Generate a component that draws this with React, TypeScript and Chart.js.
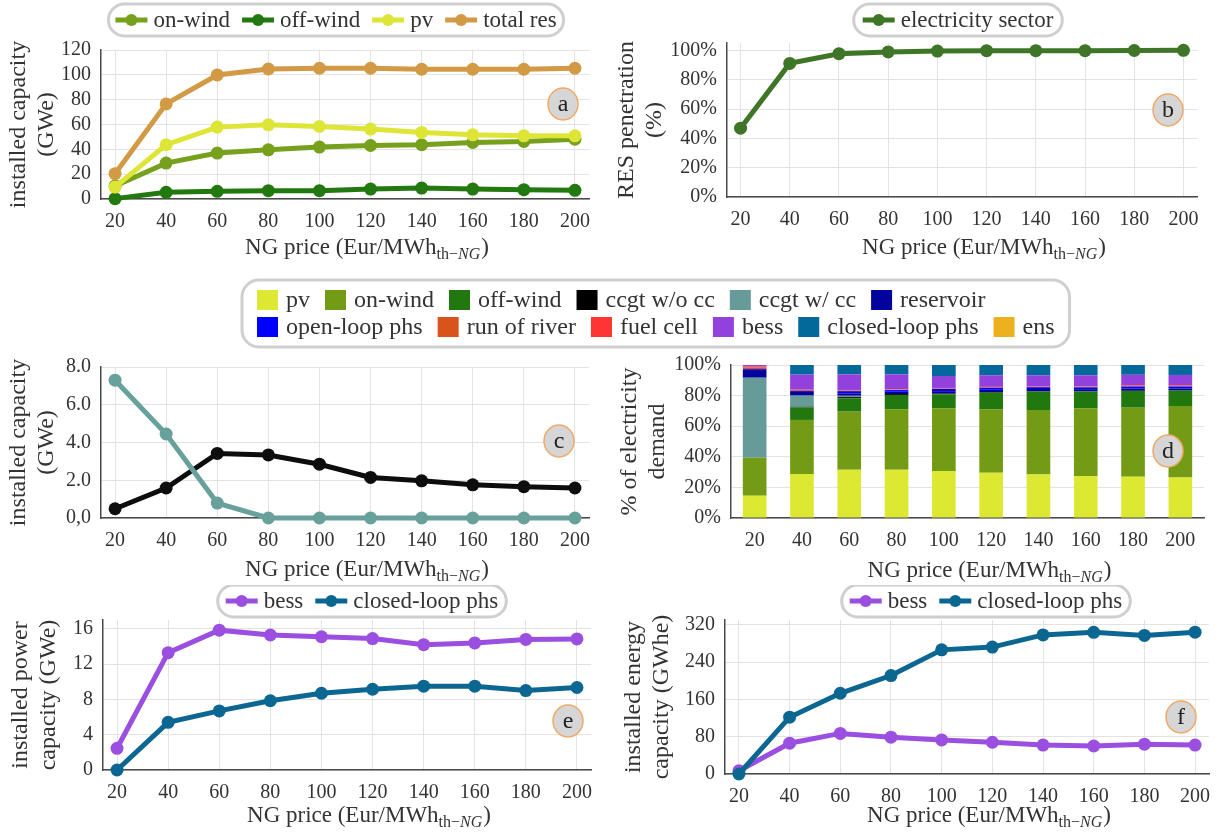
import React, { useEffect, useRef } from 'react';
import { Chart, registerables } from 'chart.js';

Chart.register(...registerables);

const SERIF = '"Liberation Serif", serif';
const TEXT = '#333333';
const GRID = '#e3e3e3';
const AXIS = '#4a4a4a';

// ---------- shared x axis ----------
const prices = [20, 40, 60, 80, 100, 120, 140, 160, 180, 200];
const priceLabels = ['20', '40', '60', '80', '100', '120', '140', '160', '180', '200'];

// ---------- panel a: installed capacity (GWe) ----------
const onWindCap = [10.5, 28.9, 37.0, 39.6, 41.8, 43.1, 43.7, 45.5, 46.3, 48.2];
const offWindCap = [0.3, 5.4, 6.2, 6.7, 6.7, 8.0, 8.8, 8.0, 7.5, 7.0];
const pvCap = [9.6, 43.7, 57.9, 59.7, 58.4, 56.3, 53.6, 51.7, 50.9, 50.9];
const totalResCap = [20.4, 76.6, 99.9, 104.7, 105.3, 105.3, 104.5, 104.5, 104.5, 105.3];
const capTicks = [0, 20, 40, 60, 80, 100, 120];

// ---------- panel b: RES penetration (%) ----------
const resPenetration = [46.9, 91.1, 97.7, 98.9, 99.5, 99.8, 99.8, 99.8, 99.9, 100];
const pctTicks = [0, 20, 40, 60, 80, 100];

// ---------- panel c: gas capacity (GWe) ----------
const ccgtNoCc = [0.49, 1.59, 3.42, 3.34, 2.85, 2.15, 1.97, 1.76, 1.66, 1.59];
const ccgtCc = [7.3, 4.45, 0.79, 0, 0, 0, 0, 0, 0, 0];
const gasTicks = [0, 2, 4, 6, 8];
const gasTickLabels = ['0,0', '2.0', '4.0', '6.0', '8.0'];

// ---------- panel d: % of electricity demand ----------
const mixPv = [14.6, 28.8, 31.6, 31.6, 30.7, 29.6, 28.5, 27.5, 27.0, 26.4];
const mixOnWind = [24.8, 35.3, 37.9, 39.4, 41.0, 41.4, 42.1, 44.2, 45.1, 46.8];
const mixOffWind = [0, 8.2, 8.7, 9.4, 9.1, 10.9, 12.0, 10.9, 10.9, 10.0];
const mixCcgtNoCc = [0, 0.4, 0.8, 0.6, 0.5, 0.4, 0.3, 0.2, 0.2, 0.1];
const mixCcgtCc = [52.3, 7.3, 0.9, 0, 0, 0, 0, 0, 0, 0];
const mixReservoir = [5.0, 2.4, 1.6, 1.5, 1.6, 1.5, 1.4, 1.4, 1.4, 1.4];
const mixOpenLoop = [0.6, 0.6, 1.4, 1.1, 1.4, 1.3, 1.2, 1.2, 1.3, 1.2];
const mixRunOfRiver = [1.0, 0.6, 0.5, 0.3, 0.4, 0.3, 0.4, 0.4, 0.5, 0.5];
const mixFuelCell = [0.7, 0.3, 0.3, 0.2, 0.3, 0.3, 0.3, 0.3, 0.4, 0.4];
const mixBess = [1.0, 9.8, 10.2, 9.8, 7.8, 7.6, 7.1, 7.2, 6.8, 6.7];
const mixClosedLoop = [0, 6.3, 6.1, 6.1, 7.2, 6.7, 6.7, 6.7, 6.4, 6.5];
const mixEns = [0, 0, 0, 0, 0, 0, 0, 0, 0, 0];

// ---------- panel e: storage power (GWe) ----------
const bessPower = [2.46, 13.3, 15.85, 15.3, 15.1, 14.9, 14.2, 14.4, 14.8, 14.85];
const phsPower = [0, 5.4, 6.7, 7.85, 8.7, 9.15, 9.5, 9.5, 9.0, 9.35];
const powerTicks = [0, 4, 8, 12, 16];

// ---------- panel f: storage energy (GWhe) ----------
const bessEnergy = [7, 66, 87, 79, 73, 68, 62, 60, 64, 62];
const phsEnergy = [0, 121.7, 173, 211, 266, 272, 298, 303.5, 297, 304];
const energyTicks = [0, 80, 160, 240, 320];

// ---------- colours ----------
const C_ONWIND = '#77a11d';
const C_OFFWIND = '#22790f';
const C_PV = '#dde637';
const C_TOTAL = '#d39a45';
const C_ELEC = '#3f7526';
const C_CCGT = '#0d0d0d';
const C_CCGTCC = '#68a09c';
const C_BESS_LINE = '#9b4fe0';
const C_PHS_LINE = '#0b6791';

const mixSeries = [
  { label: 'pv', data: mixPv, color: '#dde833' },
  { label: 'on-wind', data: mixOnWind, color: '#749b15' },
  { label: 'off-wind', data: mixOffWind, color: '#20780f' },
  { label: 'ccgt w/o cc', data: mixCcgtNoCc, color: '#000000' },
  { label: 'ccgt w/ cc', data: mixCcgtCc, color: '#669b99' },
  { label: 'reservoir', data: mixReservoir, color: '#02029c' },
  { label: 'open-loop phs', data: mixOpenLoop, color: '#0000ff' },
  { label: 'run of river', data: mixRunOfRiver, color: '#d9541a' },
  { label: 'fuel cell', data: mixFuelCell, color: '#ff3535' },
  { label: 'bess', data: mixBess, color: '#9341dd' },
  { label: 'closed-loop phs', data: mixClosedLoop, color: '#03699a' },
  { label: 'ens', data: mixEns, color: '#edb120' },
];

type Item = { label: string; color: string; kind: 'line' | 'box' };
type Decor = {
  origin: [number, number];
  legend?: {
    rows: Item[][];
    align: 'center' | 'left';
    x: number;
    y: number;
    rowGap: number;
    padX: number;
    padY: number;
    fontSize: number;
    gap: number;
  };
  badge: { x: number; y: number; text: string };
  titleY: number;
};

function roundRectPath(ctx: CanvasRenderingContext2D, x: number, y: number, w: number, h: number, r: number) {
  ctx.beginPath();
  ctx.moveTo(x + r, y);
  ctx.lineTo(x + w - r, y);
  ctx.arcTo(x + w, y, x + w, y + r, r);
  ctx.lineTo(x + w, y + h - r);
  ctx.arcTo(x + w, y + h, x + w - r, y + h, r);
  ctx.lineTo(x + r, y + h);
  ctx.arcTo(x, y + h, x, y + h - r, r);
  ctx.lineTo(x, y + r);
  ctx.arcTo(x, y, x + r, y, r);
  ctx.closePath();
}

function drawLegend(ctx: CanvasRenderingContext2D, lg: NonNullable<Decor['legend']>, ox: number, oy: number) {
  ctx.font = `${lg.fontSize}px ${SERIF}`;
  const gap = lg.gap;
  const markW = (k: string) => (k === 'line' ? 32 : 21);
  const textGap = (k: string) => (k === 'line' ? 6 : 8);
  const layouts = lg.rows.map((row, r) => {
    const widths = row.map((it) => markW(it.kind) + textGap(it.kind) + ctx.measureText(it.label).width);
    const total = widths.reduce((a, b) => a + b, 0) + gap * (row.length - 1);
    const start = lg.align === 'center' ? lg.x - total / 2 : lg.x;
    return { widths, total, start, y: lg.y + r * lg.rowGap };
  });
  const left = Math.min(...layouts.map((l) => l.start)) - lg.padX;
  const right = Math.max(...layouts.map((l) => l.start + l.total)) + lg.padX;
  const top = layouts[0].y - 11 - lg.padY;
  const bottom = layouts[layouts.length - 1].y + 11 + lg.padY;
  roundRectPath(ctx, left - ox, top - oy, right - left, bottom - top, Math.min(17, (bottom - top) / 2));
  ctx.fillStyle = '#ffffff';
  ctx.fill();
  ctx.lineWidth = 3;
  ctx.strokeStyle = '#cfcfcf';
  ctx.stroke();
  layouts.forEach((l, r) => {
    let x = l.start - ox;
    const y = l.y - oy;
    lg.rows[r].forEach((it, i) => {
      if (it.kind === 'line') {
        ctx.strokeStyle = it.color;
        ctx.lineWidth = 5;
        ctx.beginPath();
        ctx.moveTo(x, y);
        ctx.lineTo(x + 32, y);
        ctx.stroke();
        ctx.fillStyle = it.color;
        ctx.beginPath();
        ctx.arc(x + 16, y, 6, 0, Math.PI * 2);
        ctx.fill();
      } else {
        ctx.fillStyle = it.color;
        ctx.fillRect(x, y - 10, 21, 20);
      }
      ctx.fillStyle = TEXT;
      ctx.textAlign = 'left';
      ctx.textBaseline = 'middle';
      ctx.fillText(it.label, x + markW(it.kind) + textGap(it.kind), y + 1);
      x += l.widths[i] + gap;
    });
  });
}

function drawXTitle(ctx: CanvasRenderingContext2D, chart: Chart, cy: number, oy: number) {
  const cx = (chart.chartArea.left + chart.chartArea.right) / 2 + 22;
  const base = cy - oy + 7;
  const parts = [
    { t: 'NG price (Eur/MWh', f: `23px ${SERIF}`, dy: 0, after: 0 },
    { t: 'th\u2212', f: `16px ${SERIF}`, dy: 5, after: 0 },
    { t: 'NG', f: `italic 16px ${SERIF}`, dy: 5, after: 1 },
    { t: ')', f: `23px ${SERIF}`, dy: 0, after: 0 },
  ];
  const widths = parts.map((p) => {
    ctx.font = p.f;
    return ctx.measureText(p.t).width + p.after;
  });
  let x = cx - widths.reduce((a, b) => a + b, 0) / 2;
  ctx.fillStyle = TEXT;
  ctx.textAlign = 'left';
  ctx.textBaseline = 'alphabetic';
  parts.forEach((p, i) => {
    ctx.font = p.f;
    ctx.fillText(p.t, x, base + p.dy);
    x += widths[i];
  });
}

function drawBadge(ctx: CanvasRenderingContext2D, b: Decor['badge'], ox: number, oy: number) {
  ctx.beginPath();
  ctx.ellipse(b.x - ox, b.y - oy, 15, 16, 0, 0, Math.PI * 2);
  ctx.fillStyle = '#d6d6d6';
  ctx.fill();
  ctx.lineWidth = 1.5;
  ctx.strokeStyle = '#f2a866';
  ctx.stroke();
  ctx.fillStyle = '#222222';
  ctx.font = `24px ${SERIF}`;
  ctx.textAlign = 'center';
  ctx.textBaseline = 'middle';
  ctx.fillText(b.text, b.x - ox, b.y - oy + 1);
}

function makeDecor(d: Decor) {
  return {
    id: 'decor',
    afterDraw(chart: Chart) {
      const ctx = chart.ctx;
      const [ox, oy] = d.origin;
      ctx.save();
      drawXTitle(ctx, chart, d.titleY, oy);
      if (d.legend) drawLegend(ctx, d.legend, ox, oy);
      drawBadge(ctx, d.badge, ox, oy);
      ctx.restore();
    },
  };
}

type Pad = { left: number; top: number; right: number; bottom: number };

const tickFont = { family: SERIF, size: 20 };

function xLinearScale() {
  return {
    type: 'linear',
    min: 14.5,
    max: 205.5,
    afterBuildTicks: (axis: any) => {
      axis.ticks = prices.map((v) => ({ value: v }));
    },
    afterFit: (axis: any) => {
      axis.height = 40;
    },
    ticks: {
      autoSkip: false,
      maxRotation: 0,
      padding: 11,
      color: TEXT,
      font: tickFont,
      callback: (v: any) => String(v),
    },
    grid: { color: GRID, lineWidth: 1, drawTicks: false },
    border: { display: true, color: AXIS, width: 1.5 },
  };
}

function yScale(o: { max: number; ticks: number[]; label: (v: number, i: number) => string; title: string[]; width: number; stacked?: boolean }) {
  return {
    type: 'linear',
    stacked: !!o.stacked,
    min: 0,
    max: o.max,
    afterBuildTicks: (axis: any) => {
      axis.ticks = o.ticks.map((v) => ({ value: v }));
    },
    afterFit: (axis: any) => {
      axis.width = o.width;
    },
    ticks: {
      autoSkip: false,
      padding: 10,
      color: TEXT,
      font: tickFont,
      callback: (v: any, i: number) => o.label(Number(v), i),
    },
    grid: { color: GRID, lineWidth: 1, drawTicks: false },
    border: { display: true, color: AXIS, width: 1.5 },
    title: {
      display: true,
      text: o.title,
      color: TEXT,
      font: { family: SERIF, size: 24, lineHeight: 1.15 },
      padding: 0,
    },
  };
}

type LineSeries = { label: string; data: number[]; color: string };

function lineConfig(o: {
  series: LineSeries[];
  y: Parameters<typeof yScale>[0];
  padding: Pad;
  decor: Decor;
}): any {
  return {
    type: 'line',
    data: {
      datasets: o.series.map((s) => ({
        label: s.label,
        data: s.data.map((y, i) => ({ x: prices[i], y })),
        borderColor: s.color,
        backgroundColor: s.color,
        borderWidth: 5,
        pointRadius: 6.5,
        pointHoverRadius: 6.5,
        pointBorderWidth: 0,
        pointBackgroundColor: s.color,
        tension: 0,
        clip: false,
      })),
    },
    options: {
      animation: false,
      responsive: false,
      events: [],
      layout: { padding: o.padding },
      plugins: { legend: { display: false }, tooltip: { enabled: false } },
      scales: { x: xLinearScale(), y: yScale(o.y) },
    },
    plugins: [makeDecor(o.decor)],
  };
}

const lineItem = (label: string, color: string): Item => ({ label, color, kind: 'line' });

type PanelSpec = { key: string; rect: [number, number, number, number]; make: () => any };

const panels: PanelSpec[] = [
  {
    key: 'a',
    rect: [0, 0, 610, 265],
    make: () =>
      lineConfig({
        series: [
          { label: 'total res', data: totalResCap, color: C_TOTAL },
          { label: 'pv', data: pvCap, color: C_PV },
          { label: 'on-wind', data: onWindCap, color: C_ONWIND },
          { label: 'off-wind', data: offWindCap, color: C_OFFWIND },
        ],
        y: { max: 120, ticks: capTicks, label: (v) => String(v), title: ['installed capacity', '(GWe)'], width: 96 },
        padding: { left: 5, top: 50, right: 21, bottom: 26 },
        decor: {
          origin: [0, 0],
          legend: {
            rows: [[lineItem('on-wind', C_ONWIND), lineItem('off-wind', C_OFFWIND), lineItem('pv', C_PV), lineItem('total res', C_TOTAL)]],
            align: 'center', x: 336, y: 20, rowGap: 0, padX: 7, padY: 5, fontSize: 23, gap: 12,
          },
          badge: { x: 563, y: 104, text: 'a' },
          titleY: 247,
        },
      }),
  },
  {
    key: 'b',
    rect: [610, 0, 614, 265],
    make: () =>
      lineConfig({
        series: [{ label: 'electricity sector', data: resPenetration, color: C_ELEC }],
        y: { max: 105, ticks: pctTicks, label: (v) => `${v}%`, title: ['RES penetration', '(%)'], width: 114 },
        padding: { left: 3, top: 43, right: 27, bottom: 28 },
        decor: {
          origin: [610, 0],
          legend: {
            rows: [[lineItem('electricity sector', C_ELEC)]],
            align: 'center', x: 958, y: 20, rowGap: 0, padX: 9, padY: 5, fontSize: 23, gap: 12,
          },
          badge: { x: 1168, y: 110, text: 'b' },
          titleY: 247,
        },
      }),
  },
  {
    key: 'c',
    rect: [0, 345, 610, 240],
    make: () =>
      lineConfig({
        series: [
          { label: 'ccgt w/ cc', data: ccgtCc, color: C_CCGTCC },
          { label: 'ccgt w/o cc', data: ccgtNoCc, color: C_CCGT },
        ],
        y: { max: 8, ticks: gasTicks, label: (_v, i) => gasTickLabels[i], title: ['installed capacity', '(GWe)'], width: 96 },
        padding: { left: 5, top: 20, right: 21, bottom: 27 },
        decor: {
          origin: [0, 345],
          badge: { x: 559, y: 441, text: 'c' },
          titleY: 569,
        },
      }),
  },
  {
    key: 'd',
    rect: [230, 272, 994, 313],
    make: () => ({
      type: 'bar',
      data: {
        labels: priceLabels,
        datasets: mixSeries.map((s) => ({
          label: s.label,
          data: s.data,
          backgroundColor: s.color,
          borderWidth: 0,
          barPercentage: 0.5,
          categoryPercentage: 1,
        })),
      },
      options: {
        animation: false,
        responsive: false,
        events: [],
        layout: { padding: { left: 386, top: 93, right: 20, bottom: 27 } },
        plugins: { legend: { display: false }, tooltip: { enabled: false } },
        scales: {
          x: {
            type: 'category',
            stacked: true,
            afterFit: (axis: any) => {
              axis.height = 40;
            },
            ticks: { autoSkip: false, maxRotation: 0, padding: 11, color: TEXT, font: tickFont },
            grid: { display: false, drawTicks: false },
            border: { display: true, color: AXIS, width: 1.5 },
          },
          y: yScale({ max: 100, ticks: pctTicks, label: (v) => `${v}%`, title: ['% of electricity', 'demand'], width: 115, stacked: true }),
        },
      },
      plugins: [
        makeDecor({
          origin: [230, 272],
          legend: {
            rows: [
              mixSeries.slice(0, 6).map((s) => ({ label: s.label, color: s.color, kind: 'box' as const })),
              mixSeries.slice(6).map((s) => ({ label: s.label, color: s.color, kind: 'box' as const })),
            ],
            align: 'left', x: 257, y: 300, rowGap: 27, padX: 15, padY: 9, fontSize: 24, gap: 15,
          },
          badge: { x: 1168, y: 451, text: 'd' },
          titleY: 570,
        }),
      ],
    }),
  },
  {
    key: 'e',
    rect: [0, 585, 610, 252],
    make: () =>
      lineConfig({
        series: [
          { label: 'bess', data: bessPower, color: C_BESS_LINE },
          { label: 'closed-loop phs', data: phsPower, color: C_PHS_LINE },
        ],
        y: { max: 17, ticks: powerTicks, label: (v) => String(v), title: ['installed power', 'capacity (GWe)'], width: 96 },
        padding: { left: 7, top: 35, right: 19, bottom: 27 },
        decor: {
          origin: [0, 585],
          legend: {
            rows: [[lineItem('bess', C_BESS_LINE), lineItem('closed-loop phs', C_PHS_LINE)]],
            align: 'center', x: 362, y: 601, rowGap: 0, padX: 8, padY: 5, fontSize: 23, gap: 12,
          },
          badge: { x: 568, y: 721, text: 'e' },
          titleY: 815,
        },
      }),
  },
  {
    key: 'f',
    rect: [610, 585, 614, 252],
    make: () =>
      lineConfig({
        series: [
          { label: 'closed-loop phs', data: phsEnergy, color: C_PHS_LINE },
          { label: 'bess', data: bessEnergy, color: C_BESS_LINE },
        ],
        y: { max: 330, ticks: energyTicks, label: (v) => String(v), title: ['installed energy', 'capacity (GWhe)'], width: 105 },
        padding: { left: 10, top: 35, right: 15, bottom: 23 },
        decor: {
          origin: [610, 585],
          legend: {
            rows: [[lineItem('bess', C_BESS_LINE), lineItem('closed-loop phs', C_PHS_LINE)]],
            align: 'center', x: 986, y: 601, rowGap: 0, padX: 8, padY: 5, fontSize: 23, gap: 12,
          },
          badge: { x: 1181, y: 717, text: 'f' },
          titleY: 815,
        },
      }),
  },
];

function Panel({ spec }: { spec: PanelSpec }) {
  const ref = useRef<HTMLCanvasElement | null>(null);
  useEffect(() => {
    if (!ref.current) return;
    const chart = new Chart(ref.current, spec.make());
    return () => chart.destroy();
  }, [spec]);
  const [x, y, w, h] = spec.rect;
  return (
    <canvas
      ref={ref}
      width={w}
      height={h}
      style={{ position: 'absolute', left: x, top: y, width: w, height: h, display: 'block' }}
    />
  );
}

export default function App() {
  return (
    <div
      style={{
        position: 'fixed',
        left: 0,
        top: 0,
        width: 1224,
        height: 837,
        background: '#ffffff',
        overflow: 'hidden',
      }}
    >
      {panels.map((p) => (
        <Panel key={p.key} spec={p} />
      ))}
    </div>
  );
}
